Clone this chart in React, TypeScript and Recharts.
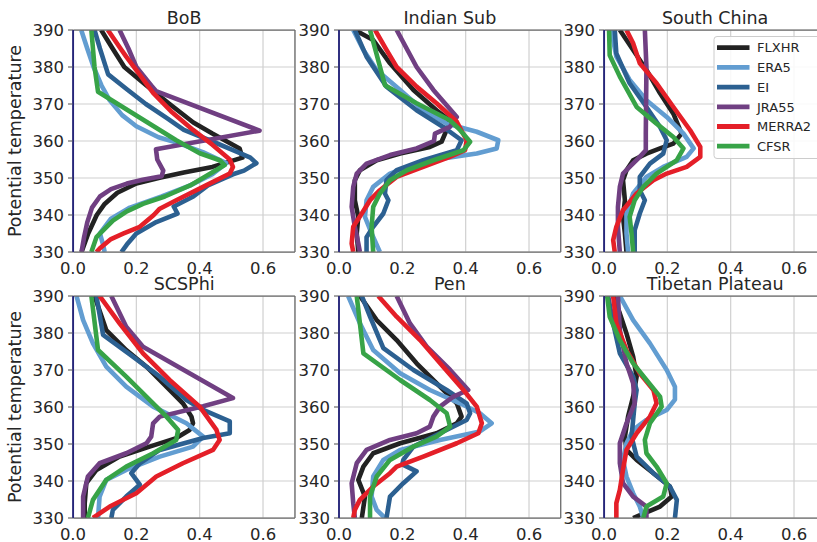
import React from 'react';
import { LineChart, Line, XAxis, YAxis, CartesianGrid, ReferenceLine } from 'recharts';

type Pt = [number, number]; // [potential temperature, value]

const SERIES_NAMES = ['FLXHR', 'ERA5', 'EI', 'JRA55', 'MERRA2', 'CFSR'];
const SERIES_COLORS = ['#222222', '#629dd1', '#2c6091', '#703f82', '#e41f28', '#37a347'];
const X_TICKS = [0, 0.2, 0.4, 0.6];
const Y_TICKS = [330, 340, 350, 360, 370, 380, 390];
const PANEL_TITLES = ['BoB', 'Indian Sub', 'South China', 'SCSPhi', 'Pen', 'Tibetan Plateau'];

// ---- BoB ----
const bobFLXHR: Pt[] = [[390, 0.089], [385, 0.125], [380, 0.162], [375, 0.232], [370, 0.305], [365, 0.38], [362, 0.44], [358, 0.526], [355.5, 0.535], [353, 0.44], [351.5, 0.35], [350, 0.27], [348.5, 0.2], [346, 0.14], [343, 0.1], [340, 0.075], [335, 0.048], [330, 0.027]];
const bobERA5: Pt[] = [[390, 0.026], [385, 0.045], [380, 0.065], [375, 0.09], [371, 0.116], [367, 0.155], [364, 0.2], [361, 0.27], [359.5, 0.33], [357, 0.41], [354, 0.484], [351, 0.44], [348, 0.37], [345, 0.28], [342, 0.18], [339, 0.12], [335, 0.085], [332, 0.095], [330, 0.1]];
const bobEI: Pt[] = [[390, 0.068], [385, 0.085], [378, 0.111], [374, 0.17], [370, 0.23], [366, 0.3], [363, 0.35], [360, 0.437], [357, 0.52], [355.5, 0.56], [354, 0.579], [352, 0.54], [351, 0.505], [348, 0.426], [345, 0.38], [342.3, 0.318], [340.4, 0.33], [338.1, 0.263], [335, 0.2], [332, 0.17], [330, 0.153]];
const bobJRA55: Pt[] = [[390, 0.147], [385, 0.175], [380, 0.2], [375, 0.247], [373.5, 0.262], [362.8, 0.589], [357.8, 0.262], [355, 0.266], [352, 0.285], [350.5, 0.28], [349.5, 0.22], [348.5, 0.17], [347, 0.12], [345, 0.085], [342, 0.06], [338, 0.045], [334, 0.035], [330, 0.027]];
const bobMERRA2: Pt[] = [[390, 0.11], [385, 0.15], [382.8, 0.168], [378, 0.21], [373, 0.253], [368, 0.31], [363, 0.379], [359, 0.44], [355, 0.495], [353, 0.505], [351.2, 0.495], [348, 0.42], [344, 0.326], [341.7, 0.274], [340, 0.255], [336.8, 0.211], [335, 0.16], [333.5, 0.12], [331, 0.085], [330, 0.074]];
const bobCFSR: Pt[] = [[390, 0.058], [380, 0.068], [373.3, 0.079], [360.2, 0.326], [356.7, 0.4], [354.8, 0.463], [353.5, 0.479], [351, 0.43], [348, 0.37], [345, 0.29], [343, 0.221], [341, 0.17], [338.5, 0.126], [334, 0.074], [330, 0.058]];

// ---- Indian Sub ----
const indFLXHR: Pt[] = [[390, 0.05], [387.3, 0.108], [381, 0.161], [373.8, 0.235], [368.3, 0.308], [365.6, 0.35], [363, 0.34], [359.8, 0.324], [358.4, 0.287], [356.6, 0.193], [354.8, 0.119], [352.1, 0.066], [349.4, 0.05], [344, 0.05], [339.5, 0.061], [335, 0.056], [330, 0.061]];
const indERA5: Pt[] = [[390, 0.045], [384.6, 0.077], [379.2, 0.119], [373.8, 0.193], [368.3, 0.266], [364.7, 0.34], [362.5, 0.435], [360.2, 0.503], [358, 0.498], [356.6, 0.435], [355.3, 0.329], [353.9, 0.245], [351.2, 0.161], [347.6, 0.108], [344, 0.087], [339.5, 0.082], [335, 0.103], [330, 0.129]];
const indEI: Pt[] = [[390, 0.05], [382.8, 0.087], [374.7, 0.15], [368.3, 0.245], [363.8, 0.329], [360.2, 0.387], [357.5, 0.372], [354.8, 0.266], [352.1, 0.182], [349.4, 0.15], [345.8, 0.145], [344, 0.156], [340.4, 0.14], [336.8, 0.108], [334, 0.087], [330, 0.087]];
const indJRA55: Pt[] = [[390, 0.182], [380, 0.245], [373.8, 0.298], [366.5, 0.372], [363.8, 0.35], [362, 0.303], [360, 0.3], [358, 0.245], [356.2, 0.161], [353.9, 0.087], [351.2, 0.056], [347.6, 0.045], [342.2, 0.04], [336.8, 0.05], [332.3, 0.061], [330, 0.066]];
const indMERRA2: Pt[] = [[390, 0.114], [384.6, 0.15], [380, 0.182], [374.7, 0.245], [370.2, 0.308], [365.2, 0.372], [360.2, 0.403], [357.5, 0.398], [355.7, 0.35], [353, 0.266], [350.3, 0.182], [346.7, 0.129], [344, 0.098], [340.4, 0.072], [336.8, 0.045], [332.3, 0.04], [330, 0.045]];
const indCFSR: Pt[] = [[390, 0.098], [375.1, 0.145], [370.2, 0.245], [365.6, 0.35], [363, 0.382], [359.8, 0.414], [357.5, 0.393], [354.8, 0.298], [352.1, 0.214], [349.4, 0.161], [345.8, 0.129], [342.2, 0.108], [336.8, 0.103], [330, 0.108]];

// ---- South China ----
const scFLXHR: Pt[] = [[390, 0.05], [384.6, 0.092], [379.2, 0.134], [372.9, 0.177], [367.4, 0.219], [362, 0.245], [359.3, 0.219], [358, 0.177], [356.6, 0.134], [354.8, 0.092], [352.1, 0.071], [349.4, 0.06], [344, 0.066], [339.5, 0.06], [335, 0.066], [330, 0.071]];
const scERA5: Pt[] = [[390, 0.023], [382.8, 0.039], [376.5, 0.081], [371, 0.134], [366.5, 0.198], [362, 0.251], [358, 0.283], [355.7, 0.261], [353, 0.187], [350.3, 0.134], [345.8, 0.092], [340.4, 0.071], [335, 0.071], [330, 0.076]];
const scEI: Pt[] = [[390, 0.034], [383.7, 0.039], [375.6, 0.081], [369.2, 0.134], [363.8, 0.177], [360.2, 0.198], [356.6, 0.187], [353.9, 0.145], [350.3, 0.113], [346.7, 0.113], [344, 0.129], [340.4, 0.113], [335.9, 0.097], [330, 0.097]];
const scJRA55: Pt[] = [[390, 0.129], [380, 0.134], [362, 0.132], [357.5, 0.132], [355.7, 0.113], [353, 0.081], [351.2, 0.06], [347.6, 0.05], [342.2, 0.044], [336.8, 0.044], [330, 0.05]];
const scMERRA2: Pt[] = [[390, 0.071], [386.4, 0.092], [381, 0.113], [375.6, 0.166], [369.2, 0.219], [362.9, 0.272], [358.4, 0.304], [355.7, 0.304], [353, 0.261], [351.2, 0.198], [349.4, 0.156], [345.8, 0.103], [341.3, 0.06], [336.8, 0.039], [333.2, 0.029], [330, 0.034]];
const scCFSR: Pt[] = [[390, 0.016], [383.2, 0.018], [377.4, 0.05], [369.2, 0.103], [364.7, 0.166], [361.1, 0.219], [358, 0.251], [354.8, 0.23], [351.2, 0.166], [347.6, 0.124], [344, 0.097], [339.5, 0.081], [335, 0.087], [330, 0.092]];

// ---- SCSPhi ----
const scsFLXHR: Pt[] = [[390, 0.068], [380.8, 0.105], [375.4, 0.168], [370.9, 0.232], [364.6, 0.305], [361, 0.347], [357.4, 0.374], [355.6, 0.379], [353.8, 0.368], [351.6, 0.326], [349.3, 0.242], [346.6, 0.147], [343, 0.074], [339.4, 0.042], [334, 0.037], [330, 0.037]];
const scsERA5: Pt[] = [[390, 0.011], [383.5, 0.032], [377.2, 0.063], [370.9, 0.105], [365.5, 0.168], [360.1, 0.253], [355.6, 0.358], [352, 0.411], [349.3, 0.379], [346.6, 0.274], [343, 0.168], [340.3, 0.105], [335.8, 0.084], [330, 0.079]];
const scsEI: Pt[] = [[390, 0.074], [379.5, 0.095], [373.6, 0.189], [368.2, 0.274], [361.9, 0.358], [359.2, 0.411], [356.1, 0.495], [352.9, 0.495], [351.6, 0.411], [348.4, 0.274], [344.8, 0.211], [342.1, 0.184], [339, 0.211], [335.8, 0.168], [332.2, 0.126], [330, 0.121]];
const scsJRA55: Pt[] = [[390, 0.121], [381.7, 0.168], [376.3, 0.221], [362.4, 0.505], [360.2, 0.411], [357.4, 0.274], [355.6, 0.253], [352, 0.247], [350.2, 0.232], [347.5, 0.168], [344.8, 0.084], [341.2, 0.047], [335.8, 0.032], [330, 0.032]];
const scsMERRA2: Pt[] = [[390, 0.084], [382.6, 0.147], [374.5, 0.221], [367.3, 0.305], [360.1, 0.4], [353.8, 0.453], [351.1, 0.463], [348.4, 0.442], [344.8, 0.347], [341.2, 0.263], [336.7, 0.2], [333.1, 0.116], [330, 0.063]];
const scsCFSR: Pt[] = [[390, 0.058], [375.4, 0.079], [368.2, 0.168], [361, 0.253], [357.4, 0.295], [353.8, 0.332], [351.1, 0.326], [347.5, 0.253], [343.9, 0.168], [340.3, 0.105], [334.9, 0.063], [330, 0.047]];

// ---- Pen ----
const penFLXHR: Pt[] = [[390, 0.066], [383.5, 0.119], [378.1, 0.182], [371.8, 0.245], [365.5, 0.319], [361, 0.372], [357.4, 0.387], [355.6, 0.372], [352.9, 0.308], [350.2, 0.193], [347.5, 0.108], [343.9, 0.077], [340.3, 0.061], [335.8, 0.082], [330, 0.072]];
const penERA5: Pt[] = [[390, 0.029], [382.6, 0.066], [375.4, 0.108], [369.1, 0.193], [364.6, 0.287], [361, 0.382], [358.3, 0.445], [355.6, 0.482], [353.4, 0.445], [351.1, 0.319], [348.4, 0.193], [345.7, 0.14], [341.2, 0.108], [335.8, 0.103], [332.2, 0.119], [330, 0.145]];
const penEI: Pt[] = [[390, 0.072], [384.4, 0.098], [375.9, 0.14], [370, 0.235], [364.6, 0.34], [361, 0.403], [358.3, 0.414], [356.5, 0.403], [352.9, 0.319], [349.3, 0.235], [345.7, 0.203], [344.5, 0.2], [342.6, 0.245], [339.4, 0.203], [335.8, 0.161], [330, 0.15]];
const penJRA55: Pt[] = [[390, 0.182], [382.6, 0.224], [376.3, 0.277], [370, 0.351], [364.6, 0.408], [362.8, 0.361], [360.1, 0.319], [357.4, 0.298], [354.7, 0.287], [352.9, 0.245], [351.1, 0.161], [348.4, 0.087], [344.8, 0.056], [339.4, 0.04], [334, 0.045], [330, 0.05]];
const penMERRA2: Pt[] = [[390, 0.124], [384.4, 0.182], [378.1, 0.256], [370.9, 0.329], [364.6, 0.393], [360.1, 0.435], [355.6, 0.451], [352.9, 0.44], [350.2, 0.372], [346.6, 0.266], [343.9, 0.182], [342.1, 0.161], [338.5, 0.108], [334.9, 0.066], [332.2, 0.05], [330, 0.045]];
const penCFSR: Pt[] = [[390, 0.056], [374.5, 0.077], [367.3, 0.193], [361.9, 0.287], [358.3, 0.34], [354.7, 0.351], [352, 0.308], [349.3, 0.235], [345.7, 0.161], [341.2, 0.119], [335.8, 0.098], [330, 0.098]];

// ---- Tibetan Plateau ----
const tpFLXHR: Pt[] = [[390, 0.029], [385.3, 0.05], [379.9, 0.071], [373.6, 0.092], [368.2, 0.103], [362.8, 0.092], [357.4, 0.076], [352, 0.066], [348.4, 0.071], [345.7, 0.103], [342.1, 0.156], [338.5, 0.208], [335.8, 0.214], [333.1, 0.177], [330, 0.092]];
const tpERA5: Pt[] = [[390, 0.05], [383.5, 0.092], [377.2, 0.145], [370, 0.198], [365.5, 0.224], [362, 0.224], [359.2, 0.198], [356.5, 0.134], [353.8, 0.092], [350.2, 0.071], [345.7, 0.06], [341.2, 0.071], [336.7, 0.092], [333.1, 0.113], [330, 0.124]];
const tpEI: Pt[] = [[390, 0.013], [382.6, 0.029], [374.5, 0.05], [368.2, 0.092], [364.6, 0.103], [361, 0.097], [356.5, 0.092], [352, 0.087], [346.6, 0.103], [342.1, 0.156], [338.5, 0.208], [334.9, 0.23], [330, 0.224]];
const tpJRA55: Pt[] = [[390, 0.044], [380.8, 0.05], [371.8, 0.071], [366.4, 0.092], [361, 0.097], [355.6, 0.071], [350.2, 0.05], [344.8, 0.05], [339.4, 0.06], [335.8, 0.092], [333.1, 0.134], [330, 0.134]];
const tpMERRA2: Pt[] = [[390, 0.029], [382.6, 0.039], [375.4, 0.071], [369.1, 0.113], [364.6, 0.156], [361, 0.166], [357.4, 0.145], [352.9, 0.103], [348.4, 0.071], [343, 0.06], [337.6, 0.05], [334, 0.039], [330, 0.039]];
const tpCFSR: Pt[] = [[390, 0.01], [384.4, 0.018], [378.1, 0.05], [371.8, 0.092], [367.3, 0.134], [362.8, 0.177], [360.1, 0.182], [355.6, 0.145], [351.1, 0.129], [347.5, 0.134], [343.9, 0.166], [339.4, 0.198], [335.8, 0.187], [333.1, 0.134], [330, 0.124]];

const PANEL_SERIES: Pt[][][] = [
  [bobFLXHR, bobERA5, bobEI, bobJRA55, bobMERRA2, bobCFSR],
  [indFLXHR, indERA5, indEI, indJRA55, indMERRA2, indCFSR],
  [scFLXHR, scERA5, scEI, scJRA55, scMERRA2, scCFSR],
  [scsFLXHR, scsERA5, scsEI, scsJRA55, scsMERRA2, scsCFSR],
  [penFLXHR, penERA5, penEI, penJRA55, penMERRA2, penCFSR],
  [tpFLXHR, tpERA5, tpEI, tpJRA55, tpMERRA2, tpCFSR],
];

// layout
const COL_LEFT = [73.3, 339, 604.3];
const ROW_TOP = [30, 296];
const PW = 221.7;
const PH = 222;
const ML = 50;
const MT = 30;
const MR = 10;
const MB = 30;
const FONT = "'DejaVu Sans', sans-serif";
const TEXT = '#262626';
const SPINE = '#6b6b6b';
const LEFT_SPINE = '#25257a';

function Panel({ idx }: { idx: number }) {
  const left = COL_LEFT[idx % 3];
  const top = ROW_TOP[Math.floor(idx / 3)];
  const series = PANEL_SERIES[idx];
  return (
    <div style={{ position: 'absolute', left: left - ML, top: top - MT }}>
      <LineChart
        layout="vertical"
        width={ML + PW + MR}
        height={MT + PH + MB}
        margin={{ top: MT, right: MR, bottom: 0, left: ML - 40 }}
      >
        <CartesianGrid stroke="#d0d0d0" strokeWidth={1.2} />
        <XAxis
          type="number"
          domain={[0, 0.7]}
          ticks={X_TICKS}
          interval={0}
          allowDataOverflow
          height={MB}
          axisLine={false}
          tickLine={false}
          tickSize={6}
          tickMargin={4}
          tickFormatter={(v: number) => v.toFixed(1)}
          tick={{ fontSize: 16.5, fill: TEXT, fontFamily: FONT }}
        />
        <YAxis
          type="number"
          dataKey="t"
          domain={[330, 390]}
          ticks={Y_TICKS}
          interval={0}
          reversed
          allowDataOverflow
          width={40}
          axisLine={false}
          tickLine={{ stroke: SPINE, strokeWidth: 1.2 }}
          tickSize={5}
          tickMargin={4}
          tick={{ fontSize: 16.5, fill: TEXT, fontFamily: FONT }}
        />
        <ReferenceLine x={0} stroke={LEFT_SPINE} strokeWidth={1.5} ifOverflow="extendDomain" />
        {series.map((pts, i) => (
          <Line
            key={SERIES_NAMES[i]}
            name={SERIES_NAMES[i]}
            data={pts.map(([t, v]) => ({ t, v }))}
            dataKey="v"
            type="linear"
            stroke={SERIES_COLORS[i]}
            strokeWidth={4.6}
            strokeLinejoin="round"
            dot={false}
            activeDot={false}
            isAnimationActive={false}
          />
        ))}
      </LineChart>
    </div>
  );
}

function Overlay() {
  const frames = [0, 1, 2, 3, 4, 5].map((idx) => {
    const l = COL_LEFT[idx % 3];
    const t = ROW_TOP[Math.floor(idx / 3)];
    return (
      <g key={idx}>
        <line x1={l} y1={t} x2={l + PW} y2={t} stroke={SPINE} strokeWidth={1.25} />
        <line x1={l} y1={t + PH} x2={l + PW} y2={t + PH} stroke={SPINE} strokeWidth={1.25} />
        <line x1={l + PW} y1={t} x2={l + PW} y2={t + PH} stroke={SPINE} strokeWidth={1.25} />
        <line x1={l} y1={t} x2={l} y2={t + PH} stroke={LEFT_SPINE} strokeWidth={1.5} />
        <text x={l + PW / 2} y={t - 6.5} textAnchor="middle" fontSize={17.5} fill={TEXT} fontFamily={FONT}>
          {PANEL_TITLES[idx]}
        </text>
      </g>
    );
  });
  const legX = 714;
  const legY = 36.5;
  const rowGap = 19.7;
  return (
    <svg width={817} height={542} style={{ position: 'absolute', left: 0, top: 0, pointerEvents: 'none' }}>
      {frames}
      {ROW_TOP.map((t, r) => (
        <text
          key={r}
          transform={`translate(21,${t + PH / 2}) rotate(-90)`}
          textAnchor="middle"
          fontSize={17.5}
          fill={TEXT}
          fontFamily={FONT}
        >
          Potential temperature
        </text>
      ))}
      <rect x={legX} y={legY} width={130} height={122} rx={3} fill="#ffffff" fillOpacity={0.85} stroke="#cccccc" strokeWidth={1} />
      {SERIES_NAMES.map((n, i) => {
        const cy = 47.7 + i * rowGap;
        return (
          <g key={n}>
            <line x1={717} y1={cy} x2={749.5} y2={cy} stroke={SERIES_COLORS[i]} strokeWidth={4.8} />
            <text x={757} y={cy + 4.7} fontSize={13} fill={TEXT} fontFamily={FONT}>
              {n}
            </text>
          </g>
        );
      })}
    </svg>
  );
}

export default function App() {
  return (
    <div
      style={{
        position: 'absolute',
        left: 0,
        top: 0,
        width: 817,
        height: 542,
        overflow: 'hidden',
        background: '#ffffff',
        fontFamily: FONT,
      }}
    >
      {[0, 1, 2, 3, 4, 5].map((i) => (
        <Panel key={i} idx={i} />
      ))}
      <Overlay />
    </div>
  );
}
